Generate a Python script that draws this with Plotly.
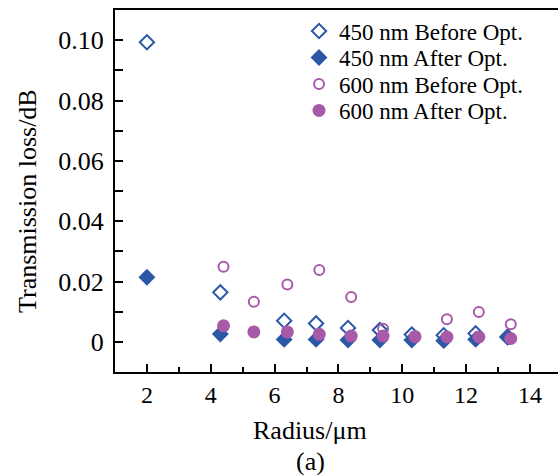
import plotly.graph_objects as go

# Data
x_450_before = [2, 4.3, 6.3, 7.3, 8.3, 9.3, 10.3, 11.3, 12.3, 13.3]
y_450_before = [0.0993, 0.0164, 0.0070, 0.0061, 0.0046, 0.0039, 0.0024, 0.0022, 0.0028, 0.0017]

x_450_after = [2, 4.3, 6.3, 7.3, 8.3, 9.3, 10.3, 11.3, 12.3, 13.3]
y_450_after = [0.0214, 0.0026, 0.0008, 0.0008, 0.0006, 0.0006, 0.0006, 0.0004, 0.0008, 0.0015]

x_600_before = [4.4, 5.35, 6.4, 7.4, 8.4, 9.4, 10.4, 11.4, 12.4, 13.4]
y_600_before = [0.0249, 0.0133, 0.0190, 0.0238, 0.0149, 0.0043, 0.0018, 0.0075, 0.0099, 0.0058]

x_600_after = [4.4, 5.35, 6.4, 7.4, 8.4, 9.4, 10.4, 11.4, 12.4, 13.4]
y_600_after = [0.0053, 0.0033, 0.0033, 0.0025, 0.0019, 0.0019, 0.0017, 0.0016, 0.0016, 0.0011]

names = ["450 nm Before Opt.", "450 nm After Opt.", "600 nm Before Opt.", "600 nm After Opt."]
x_tick_vals = [2, 4, 6, 8, 10, 12, 14]
y_tick_vals = [0, 0.02, 0.04, 0.06, 0.08, 0.10]
y_tick_text = ["0", "0.02", "0.04", "0.06", "0.08", "0.10"]

BLUE = "#2b57a6"
PURPLE = "#a65aa8"
FONT = "Liberation Serif, Times New Roman, serif"

# plot area in pixels
L, R, T, B = 115, 558, 10, 372
W, H = R - L, B - T

fig = go.Figure()
fig.add_trace(go.Scatter(x=x_450_before, y=y_450_before, mode="markers", name=names[0], legend="legend",
                         marker=dict(symbol="diamond-open", size=11, color=BLUE, line=dict(width=2, color=BLUE))))
fig.add_trace(go.Scatter(x=x_450_after, y=y_450_after, mode="markers", name=names[1], legend="legend2",
                         marker=dict(symbol="diamond", size=13, color=BLUE, line=dict(width=0))))
fig.add_trace(go.Scatter(x=x_600_before, y=y_600_before, mode="markers", name=names[2], legend="legend3",
                         marker=dict(symbol="circle-open", size=10, color=PURPLE, line=dict(width=2, color=PURPLE))))
fig.add_trace(go.Scatter(x=x_600_after, y=y_600_after, mode="markers", name=names[3], legend="legend4",
                         marker=dict(symbol="circle", size=13, color=PURPLE, line=dict(width=0))))

row_y = [31, 57.5, 84, 110.5]


def leg(py):
    return dict(x=(299 - L) / W, y=(B - py) / H, xanchor="left", yanchor="middle",
                font=dict(family=FONT, size=23, color="black"),
                bgcolor="rgba(0,0,0,0)", itemwidth=30, borderwidth=0)


fig.update_layout(
    width=558, height=475,
    margin=dict(l=L, r=0, t=T, b=475 - B),
    paper_bgcolor="white", plot_bgcolor="white",
    font=dict(family=FONT, size=24, color="black"),
    showlegend=True,
    legend=leg(row_y[0]), legend2=leg(row_y[1]), legend3=leg(row_y[2]), legend4=leg(row_y[3]),
    xaxis=dict(range=[1, 14.88], tickvals=x_tick_vals, ticks="inside", ticklen=8,
               tickwidth=1.5, tickcolor="black",
               minor=dict(tickvals=[3, 5, 7, 9, 11, 13], ticks="inside", ticklen=5, tickwidth=1.5, tickcolor="black"),
               showline=True, linecolor="black", linewidth=2, mirror=True, showgrid=False, zeroline=False,
               tickfont=dict(family=FONT, size=24)),
    yaxis=dict(range=[-0.01, 0.11], tickvals=y_tick_vals, ticktext=y_tick_text,
               ticks="inside", ticklen=8, tickwidth=1.5, tickcolor="black",
               minor=dict(tickvals=[-0.01, 0.01, 0.03, 0.05, 0.07, 0.09], ticks="inside", ticklen=8, tickwidth=1.5, tickcolor="black"),
               showline=True, linecolor="black", linewidth=2, showgrid=False, zeroline=False,
               ticklabelstandoff=4,
               tickfont=dict(family=FONT, size=26)),
    annotations=[
        dict(text="Radius/μm", xref="paper", yref="paper", x=(310 - L) / W, y=-(430 - B) / H,
             xanchor="center", yanchor="middle", showarrow=False, font=dict(family=FONT, size=26)),
        dict(text="(a)", xref="paper", yref="paper", x=(310 - L) / W, y=-(461 - B) / H,
             xanchor="center", yanchor="middle", showarrow=False, font=dict(family=FONT, size=26)),
        dict(text="Transmission loss/dB", xref="paper", yref="paper", x=-(L - 27) / W, y=(B - 201) / H,
             xanchor="center", yanchor="middle", textangle=-90, showarrow=False, font=dict(family=FONT, size=26)),
    ],
)

fig.write_html("out.html")
